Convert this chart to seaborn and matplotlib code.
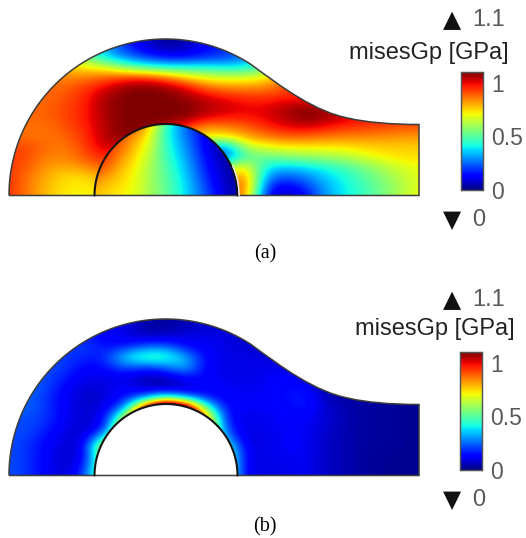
import numpy as np
import matplotlib
matplotlib.use("Agg")
import matplotlib.pyplot as plt
import seaborn as sns
from matplotlib.path import Path
from matplotlib.patches import PathPatch

# field values (GPa), rows top to bottom, 20 px / 10 px spacing
outer_a = [
    [.90,.85,.80,.70,.50,.30,.15,.08,.02,.04,.12,.16,.25,.50,.85,1,1,1,1,1,1,1],
    [.90,.85,.80,.70,.50,.32,.20,.10,.03,.06,.14,.18,.25,.50,.85,1,1,1,1,1,1,1],
    [.90,.85,.80,.72,.55,.38,.27,.20,.14,.14,.17,.20,.25,.50,.85,1,1,1,1,1,1,1],
    [.90,.85,.82,.76,.72,.68,.55,.46,.42,.42,.42,.40,.40,.50,.85,1,1,1,1,1,1,1],
    [.88,.88,.86,.84,.85,.88,.92,.93,.86,.75,.68,.66,.66,.70,.85,1,1,1,1,1,1,1],
    [.88,.88,.88,.88,.93,1.00,1.08,1.10,1.08,1.00,.88,.83,.83,.84,.90,1,1,1,1,1,1,1],
    [.88,.88,.88,.90,.96,1.06,1.10,1.10,1.10,1.08,1.02,.98,.95,.94,.96,.95,1,1,1,1,1,1],
    [.88,.88,.88,.92,.96,1.07,1.10,1.10,1.10,1.10,1.06,1.03,1.00,1.00,1.05,1.08,1.05,1,1,1,1,1],
    [.88,.88,.88,.92,.97,1.06,1.10,1.10,1.10,1.10,1.02,.98,.98,1.00,1.05,1.10,1.08,1.02,.98,.96,.95,.95],
    [.88,.87,.87,.90,.96,1.05,1.10,1.10,1.05,.95,.82,.85,.88,.95,1.00,1.02,.98,.95,.93,.92,.90,.90],
    [.88,.87,.86,.88,.94,1.05,1.10,1.05,.90,.80,.72,.70,.80,.85,.88,.88,.86,.84,.84,.83,.82,.82],
    [.92,.92,.88,.85,.93,1.03,1.00,.90,.80,.60,.40,.25,.62,.68,.72,.72,.72,.73,.75,.76,.76,.76],
    [.94,.92,.85,.84,.90,.97,.90,.80,.70,.50,.30,.20,.50,.52,.55,.58,.60,.62,.68,.72,.74,.74],
    [.94,.90,.83,.80,.83,.90,.85,.75,.60,.50,.40,.60,.75,.40,.36,.38,.42,.48,.55,.62,.68,.70],
    [.95,.88,.80,.74,.74,.80,.80,.70,.60,.50,.50,.70,.90,.30,.22,.27,.36,.42,.50,.58,.65,.70],
    [.96,.87,.79,.73,.72,.75,.75,.70,.60,.50,.60,.80,.95,.20,.10,.18,.32,.40,.47,.55,.63,.70],
    [.96,.87,.78,.72,.70,.72,.72,.70,.60,.50,.60,.80,.90,.15,.03,.12,.30,.40,.47,.55,.65,.72],
]
# the half disc inside panel (a) has its own field, 15 px / 10 px spacing
inner_a = [
    [.95,.95,.95,.92,.80,.50,.30,.20,.10,.04,.02],
    [.95,.95,.92,.88,.72,.44,.30,.18,.09,.03,.02],
    [.95,.95,.90,.80,.68,.45,.32,.20,.08,.03,.02],
    [.95,.95,.88,.76,.65,.46,.34,.22,.09,.03,.02],
    [.95,.93,.82,.73,.62,.48,.37,.24,.11,.04,.02],
    [.92,.88,.78,.71,.60,.50,.39,.26,.13,.05,.02],
    [.85,.80,.75,.70,.60,.51,.41,.28,.16,.06,.02],
    [.80,.76,.73,.69,.60,.52,.42,.30,.18,.07,.02],
    [.78,.74,.72,.68,.60,.52,.42,.30,.20,.08,.02],
]
outer_b = [
    [.2,.2,.2,.2,.15,.13,.10,.04,.03,.05,.08,.08,.08,.05,.05,.05,.05,.05,.03,.03,.03,.03],
    [.2,.2,.2,.2,.15,.13,.10,.04,.03,.06,.08,.09,.08,.05,.05,.05,.05,.05,.03,.03,.03,.03],
    [.2,.2,.2,.2,.17,.13,.10,.07,.08,.10,.10,.10,.07,.05,.05,.05,.05,.05,.03,.03,.03,.03],
    [.2,.2,.2,.2,.20,.15,.17,.25,.27,.15,.12,.10,.09,.06,.05,.05,.05,.05,.03,.03,.03,.03],
    [.2,.2,.2,.2,.17,.17,.38,.50,.48,.33,.13,.10,.10,.10,.08,.05,.05,.05,.03,.03,.03,.03],
    [.22,.22,.22,.20,.13,.15,.25,.20,.25,.36,.12,.10,.10,.10,.10,.06,.05,.05,.03,.03,.03,.03],
    [.25,.25,.22,.17,.10,.10,.10,.05,.05,.15,.14,.10,.10,.11,.14,.10,.05,.05,.03,.03,.03,.03],
    [.25,.25,.22,.13,.08,.10,.13,.06,.05,.05,.14,.12,.11,.11,.15,.14,.04,.04,.03,.03,.03,.03],
    [.25,.25,.20,.12,.07,.08,.15,.25,.42,.28,.15,.12,.12,.12,.14,.18,.05,.04,.03,.03,.03,.03],
    [.25,.25,.20,.12,.07,.10,.25,1.00,1.60,1.30,.50,.13,.12,.12,.13,.17,.08,.05,.03,.03,.02,.02],
    [.22,.22,.20,.12,.07,.12,.60,1.4,1.6,1.4,.90,.14,.10,.11,.12,.13,.08,.05,.03,.03,.02,.02],
    [.22,.22,.18,.10,.07,.12,.90,1.0,1.0,1.0,1.0,.18,.10,.11,.12,.12,.08,.05,.03,.03,.02,.02],
    [.22,.21,.15,.09,.08,.40,.8,.8,.8,.8,.8,.30,.08,.10,.12,.12,.07,.05,.03,.03,.02,.02],
    [.22,.20,.13,.08,.09,.80,.8,.8,.8,.8,.8,.50,.10,.10,.12,.12,.07,.05,.03,.03,.02,.02],
    [.22,.20,.13,.07,.10,.70,.7,.7,.7,.7,.7,.60,.10,.10,.11,.12,.07,.05,.03,.02,.02,.02],
    [.22,.20,.13,.07,.15,.70,.7,.7,.7,.7,.7,.60,.10,.10,.10,.12,.07,.05,.03,.02,.02,.02],
    [.22,.20,.13,.07,.20,.70,.7,.7,.7,.7,.7,.60,.10,.10,.10,.12,.07,.05,.03,.02,.02,.02],
]
bar_ticks = [0, 0.5, 1]
bar_labels = ["0", "0.5", "1"]
v_min = 0
v_max = 1.1
cmap_name = "jet"
title_text = "misesGp [GPa]"

W, H = 526, 538
GREY = "#5a5a5a"
SERIF = "Liberation Serif"
SANS = "Liberation Sans"


def shape_paths(dy):
    """outline of the block and of the half disc, in picture pixels"""
    cx, base = 165.5, 195.5 + dy
    t = np.radians(np.linspace(180, 57, 80))
    ox = cx + 156.5 * np.cos(t)
    oy = base - 156.5 * np.sin(t)
    verts = list(zip(ox, oy))
    codes = [Path.MOVETO] + [Path.LINETO] * (len(verts) - 1)
    verts += [(283, 88 + dy), (315, 112 + dy), (350, 118.5 + dy),
              (365, 122 + dy), (390, 124.5 + dy), (419, 124.5 + dy)]
    codes += [Path.CURVE4] * 6
    verts += [(419, base), (ox[0], base)]
    codes += [Path.LINETO, Path.LINETO]
    outer = Path(verts, codes)
    t = np.radians(np.linspace(0, 180, 60))
    hx = 166 + 71.5 * np.cos(t)
    hy = base - 71.5 * np.sin(t)
    hole = Path(np.column_stack([hx, hy]))
    return outer, hole


def draw_field(fig, bg, values, x0, x1, y0, y1, clip, cax=None):
    # heatmap sets up the axes and the colorbar, the image on top smooths the cells
    ax = fig.add_axes([x0 / W, 1 - y1 / H, (x1 - x0) / W, (y1 - y0) / H], zorder=1)
    data = np.array(values)
    sns.heatmap(data, ax=ax, cmap=cmap_name, vmin=v_min, vmax=v_max, cbar=cax is not None,
                cbar_ax=cax, xticklabels=False, yticklabels=False)
    mesh = ax.collections[0]
    im = ax.imshow(data, cmap=mesh.cmap, norm=mesh.norm, interpolation="bicubic", aspect="auto",
                   extent=(0, data.shape[1], data.shape[0], 0))
    mesh.set_visible(False)
    im.set_clip_path(PathPatch(clip, transform=bg.transData))
    ax.axis("off")
    return ax


def style_bar(cax):
    cax.set_yticks(bar_ticks, labels=bar_labels)
    cax.tick_params(left=True, right=True, direction="in", length=2.5, width=0.8,
                    color="#333333", labelsize=16.5, labelcolor=GREY, pad=6)
    for lab in cax.get_yticklabels():
        lab.set_family(SANS)
    for s in cax.spines.values():
        s.set_visible(True)
        s.set_color("#555555")
        s.set_linewidth(0.9)


def panel(fig, bg, dy, outer_vals, inner_vals, label, label_y, title_x, title_y, bar_x):
    outer, hole = shape_paths(dy)
    cax = fig.add_axes([bar_x / W, 1 - (190 + dy) / H, 22 / W, 118 / H], zorder=3)
    # grid points sit on cell centres, so the axes reach half a cell further out
    draw_field(fig, bg, outer_vals, -5, 435, 32 + dy, 202 + dy, outer, cax)
    style_bar(cax)
    hole_closed = Path(np.vstack([hole.vertices, hole.vertices[:1]]))
    if inner_vals is None:
        bg.add_patch(PathPatch(hole_closed, fc="white", ec="none", zorder=4))
    else:
        draw_field(fig, bg, inner_vals, 82.5, 247.5, 115 + dy, 205 + dy, hole_closed)
    bg.add_patch(PathPatch(outer, fc="none", ec="#3c3c3c", lw=1.1, zorder=5))
    bg.plot(hole.vertices[:, 0], hole.vertices[:, 1], color="#151515", lw=1.5, zorder=6)
    if inner_vals is not None:
        bg.plot(hole.vertices[:9, 0] + 1.6, hole.vertices[:9, 1], color="#e8e8e8", lw=1.1, zorder=6)

    bg.text(452, 20 + dy, "\u25b2", fontsize=17, family="DejaVu Sans", color="#111111",
            ha="center", va="center", zorder=7)
    bg.text(472.5, 20 + dy, "1.1", fontsize=17, family=SANS, color=GREY, va="center", zorder=7)
    bg.text(title_x, title_y, title_text, fontsize=17, family=SANS, color="#222222",
            ha="center", va="center", zorder=7)
    bg.text(452, 220 + dy, "\u25bc", fontsize=17, family="DejaVu Sans", color="#111111",
            ha="center", va="center", zorder=7)
    bg.text(472.5, 220 + dy, "0", fontsize=17, family=SANS, color=GREY, va="center", zorder=7)
    bg.text(265, label_y, label, fontsize=14.5, family=SERIF, color="black",
            ha="center", va="center", zorder=7)


sns.set_theme(style="white")
fig = plt.figure(figsize=(W / 100, H / 100), dpi=100, facecolor="white")
bg = fig.add_axes([0, 0, 1, 1], zorder=2)
bg.set_xlim(0, W)
bg.set_ylim(H, 0)
bg.axis("off")
bg.patch.set_alpha(0)

panel(fig, bg, 0, outer_a, inner_a, "(a)", 254, 429, 53, 461)
panel(fig, bg, 280, outer_b, None, "(b)", 527, 435, 329, 460)

fig.savefig("out.png", dpi=100)
